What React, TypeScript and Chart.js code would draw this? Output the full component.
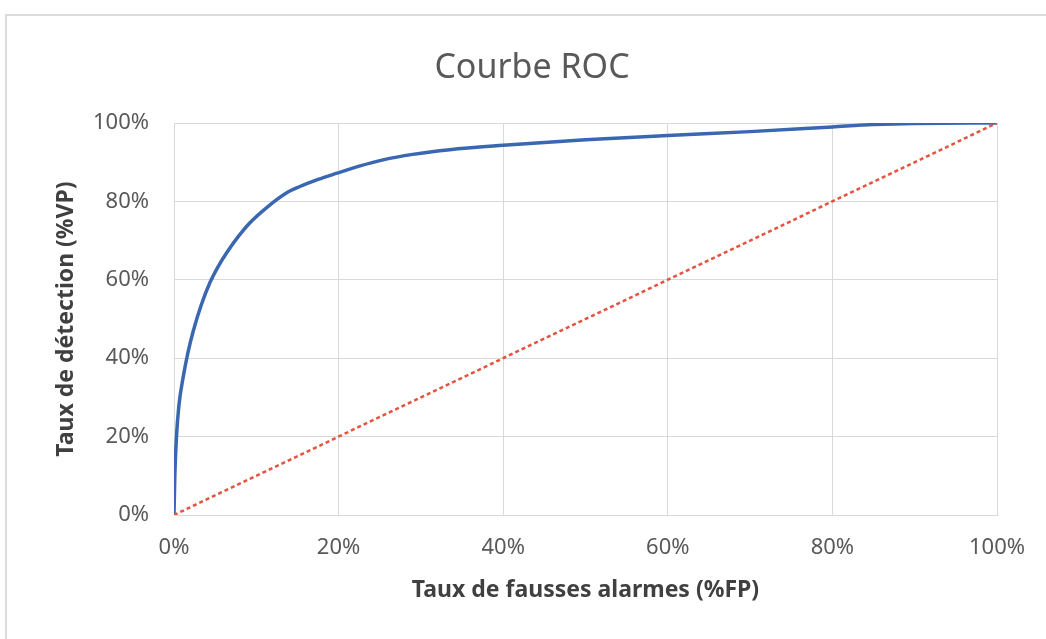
import React, { useEffect, useRef } from "react";
import { Chart, registerables } from "chart.js";

Chart.register(...registerables);

const chartTitle = "Courbe ROC";
const xAxisTitle = "Taux de fausses alarmes (%FP)";
const yAxisTitle = "Taux de détection (%VP)";
const tickLabels = ["0%", "20%", "40%", "60%", "80%", "100%"];

const rocFpr = [0, 0.001, 0.003, 0.006, 0.011, 0.017, 0.0235, 0.033, 0.0437, 0.054, 0.064, 0.078, 0.092, 0.113, 0.137, 0.153, 0.175, 0.198, 0.225, 0.254, 0.29, 0.335, 0.4, 0.5, 0.6, 0.7, 0.8, 0.85, 0.9, 1];
const rocTpr = [0, 0.1, 0.2, 0.28, 0.35, 0.415, 0.47, 0.535, 0.593, 0.635, 0.669, 0.71, 0.745, 0.785, 0.822, 0.838, 0.856, 0.872, 0.89, 0.906, 0.92, 0.932, 0.943, 0.957, 0.968, 0.978, 0.99, 0.996, 0.999, 1];

const diagFpr = [0, 1];
const diagTpr = [0, 1];

const FONT = "'Noto Sans', sans-serif";

export default function App() {
  const ref = useRef<HTMLCanvasElement | null>(null);

  useEffect(() => {
    if (!ref.current) return;
    const chart = new Chart(ref.current, {
      type: "scatter",
      data: {
        datasets: [
          {
            label: "ROC",
            data: rocFpr.map((x, i) => ({ x, y: rocTpr[i] })),
            showLine: true,
            borderColor: "#3A67B1",
            borderWidth: 3.5,
            pointRadius: 0,
            cubicInterpolationMode: "monotone",
            fill: false,
            order: 1,
          },
          {
            label: "Aléatoire",
            data: diagFpr.map((x, i) => ({ x, y: diagTpr[i] })),
            showLine: true,
            borderColor: "#E5533F",
            borderWidth: 2.5,
            borderDash: [4, 3],
            pointRadius: 0,
            fill: false,
            order: 0,
          },
        ],
      },
      options: {
        responsive: false,
        animation: false,
        layout: { padding: { left: 18, right: 0, top: 0, bottom: 0 } },
        plugins: {
          legend: { display: false },
          tooltip: { enabled: false },
          title: {
            display: true,
            text: chartTitle,
            color: "#595959",
            font: { family: FONT, size: 34, weight: "normal" },
            padding: { top: 47.6, bottom: 34.6 },
          },
        },
        scales: {
          x: {
            type: "linear",
            min: 0,
            max: 1,
            ticks: {
              stepSize: 0.2,
              color: "#595959",
              font: { family: FONT, size: 22 },
              padding: 20,
              callback: (v: any) => tickLabels[Math.round(Number(v) / 0.2)],
              maxRotation: 0,
            },
            grid: { color: "#D9D9D9", lineWidth: 1, drawTicks: false },
            border: { color: "#D9D9D9" },
            title: {
              display: true,
              text: xAxisTitle,
              color: "#404040",
              font: { family: FONT, size: 23, weight: "bold" },
              padding: { top: 0, bottom: 35 },
            },
            afterFit: (s: any) => {
              s.height = 124;
            },
          },
          y: {
            type: "linear",
            min: 0,
            max: 1,
            ticks: {
              stepSize: 0.2,
              color: "#595959",
              font: { family: FONT, size: 22 },
              padding: 25,
              callback: (v: any) => tickLabels[Math.round(Number(v) / 0.2)],
            },
            grid: { color: "#D9D9D9", lineWidth: 1, drawTicks: false },
            border: { color: "#D9D9D9" },
            title: {
              display: true,
              text: yAxisTitle,
              color: "#404040",
              font: { family: FONT, size: 23, weight: "bold" },
              padding: { top: 35, bottom: 0 },
            },
            afterFit: (s: any) => {
              s.width = 156;
            },
          },
          yRight: {
            type: "linear",
            position: "right",
            display: true,
            grid: { display: false, drawOnChartArea: false, drawTicks: false },
            border: { display: false },
            ticks: { display: false },
            afterFit: (s: any) => {
              s.width = 49;
            },
          },
        },
      } as any,
    });
    return () => chart.destroy();
  }, []);

  return (
    <div
      style={{
        position: "fixed",
        left: 0,
        top: 0,
        width: 1046,
        height: 639,
        overflow: "hidden",
        background: "#ffffff",
      }}
    >
      <div
        style={{
          position: "absolute",
          left: 5,
          top: 14,
          width: 1100,
          height: 700,
          border: "2px solid #DCDCDC",
          boxSizing: "border-box",
        }}
      />
      <canvas
        ref={ref}
        width={1046}
        height={639}
        style={{ position: "absolute", left: 0, top: 0, width: 1046, height: 639 }}
      />
    </div>
  );
}
